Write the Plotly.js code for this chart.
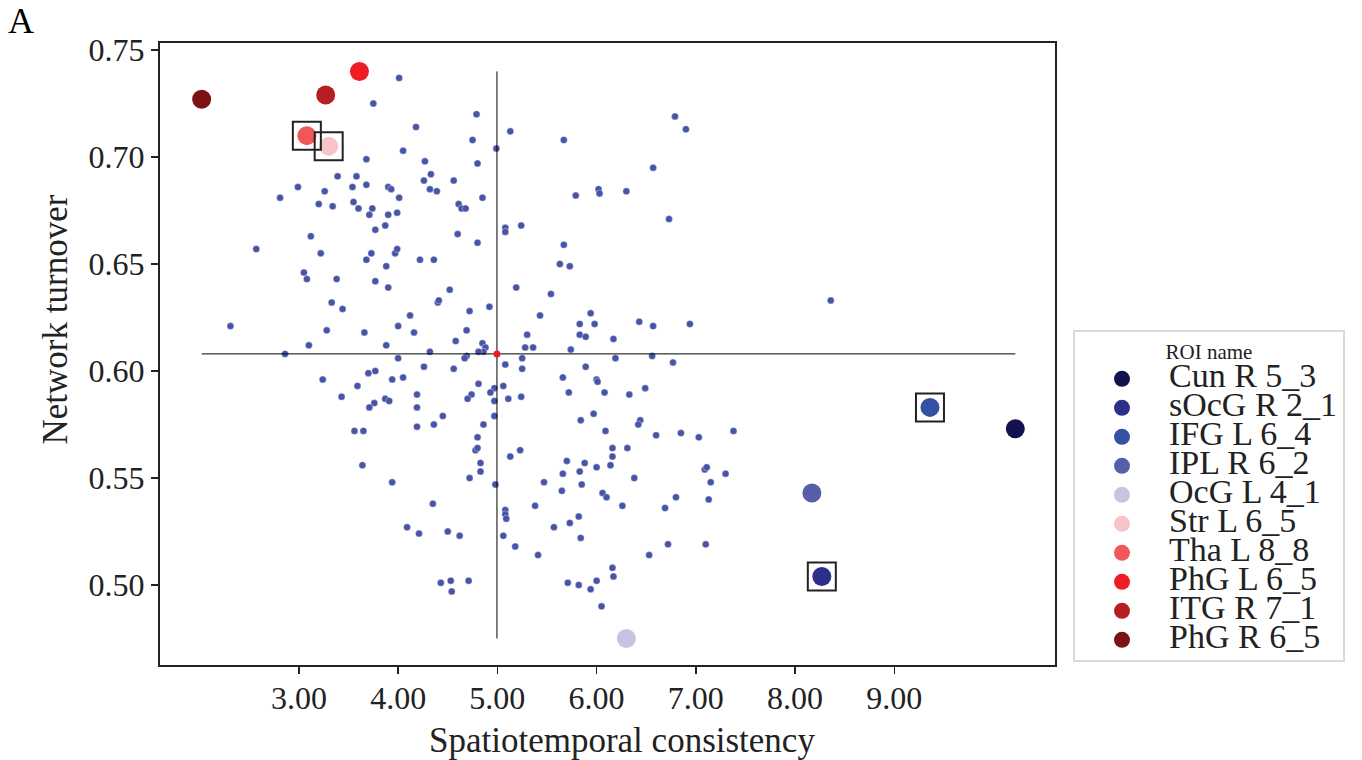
<!DOCTYPE html>
<html><head><meta charset="utf-8">
<script src="https://cdn.plot.ly/plotly-3.0.1.min.js"></script>
<style>html,body{margin:0;padding:0;background:#fff}#chart{width:1362px;height:760px}</style>
</head><body><div id="chart"></div>
<script>
// background ROIs (all regions)
const bgX = [4.01,3.75,3.68,3.39,3.58,2.99,3.26,3.54,3.68,3.90,
3.93,4.01,2.81,3.20,3.34,3.55,3.60,3.74,3.71,3.90,
3.99,3.87,3.77,3.12,2.57,3.22,3.73,3.97,3.99,4.79,
4.18,5.13,5.67,4.75,4.99,4.05,4.27,4.80,4.33,4.26,
4.56,4.32,4.39,5.79,6.02,6.03,4.85,4.61,4.64,4.68,
5.08,5.24,5.08,4.60,4.80,5.67,6.79,6.90,6.57,6.30,
6.73,3.68,3.05,3.08,3.38,3.88,3.77,3.90,3.33,3.44,
2.31,3.28,3.66,4.00,3.10,3.88,2.86,4.00,3.24,3.70,
3.77,3.94,3.59,3.43,3.87,3.91,3.76,3.71,3.56,3.65,
4.22,4.36,5.63,5.73,4.52,5.19,5.54,4.40,4.41,4.12,
4.72,4.92,5.43,5.94,5.83,5.98,4.16,4.69,5.30,5.83,
5.89,6.17,4.58,4.85,4.88,4.86,5.28,5.36,4.32,4.81,
4.69,4.67,5.74,5.25,6.19,5.08,4.26,4.56,5.25,5.89,
4.05,5.66,6.00,6.01,4.81,5.06,4.97,4.93,4.19,4.74,
5.24,5.72,6.08,4.70,4.97,5.11,4.19,4.45,4.97,5.97,
4.36,4.19,4.86,5.84,6.09,4.80,4.78,4.80,5.23,6.16,
8.36,6.43,6.57,6.94,6.56,6.77,6.49,6.33,6.44,6.42,
6.60,6.85,7.03,7.38,6.31,3.64,3.94,5.13,4.83,4.83,
4.72,4.98,4.35,4.09,4.21,4.50,4.62,4.43,4.53,4.54,
4.71,5.70,5.88,5.66,5.83,6.00,6.16,6.14,5.47,5.65,
5.85,6.06,6.10,6.26,5.38,5.08,5.08,5.09,5.06,5.18,
5.57,5.73,5.82,5.84,5.41,6.16,6.17,5.71,5.82,6.00,
5.94,6.05,6.38,6.80,6.69,7.09,7.11,7.30,7.15,7.13,
6.72,7.10,6.53];
const bgY = [0.737,0.725,0.699,0.691,0.691,0.686,0.684,0.686,0.687,0.686,
0.685,0.681,0.681,0.678,0.677,0.679,0.676,0.676,0.673,0.673,
0.674,0.668,0.666,0.663,0.657,0.655,0.655,0.655,0.657,0.720,
0.714,0.712,0.708,0.708,0.704,0.703,0.698,0.697,0.692,0.689,
0.689,0.685,0.684,0.682,0.685,0.683,0.681,0.678,0.676,0.676,
0.667,0.668,0.665,0.664,0.660,0.659,0.719,0.713,0.695,0.684,
0.671,0.652,0.646,0.643,0.643,0.649,0.642,0.639,0.632,0.629,
0.621,0.619,0.618,0.621,0.612,0.612,0.608,0.606,0.596,0.599,
0.600,0.596,0.593,0.588,0.587,0.586,0.585,0.583,0.572,0.572,
0.652,0.652,0.650,0.649,0.638,0.639,0.636,0.632,0.633,0.626,
0.628,0.630,0.626,0.627,0.622,0.622,0.618,0.619,0.617,0.617,
0.616,0.615,0.614,0.613,0.611,0.609,0.611,0.611,0.609,0.609,
0.607,0.606,0.610,0.606,0.606,0.603,0.602,0.601,0.601,0.602,
0.597,0.597,0.596,0.595,0.594,0.593,0.592,0.590,0.589,0.589,
0.588,0.590,0.590,0.587,0.586,0.587,0.583,0.579,0.579,0.580,
0.575,0.574,0.575,0.577,0.572,0.569,0.563,0.564,0.563,0.564,
0.633,0.623,0.621,0.622,0.607,0.604,0.592,0.589,0.577,0.575,
0.570,0.571,0.569,0.572,0.564,0.556,0.548,0.560,0.557,0.553,
0.550,0.547,0.538,0.527,0.524,0.525,0.523,0.501,0.502,0.497,
0.502,0.558,0.557,0.552,0.553,0.555,0.560,0.556,0.548,0.544,
0.547,0.543,0.541,0.537,0.537,0.535,0.533,0.531,0.523,0.518,
0.527,0.529,0.532,0.522,0.514,0.508,0.504,0.501,0.500,0.502,
0.498,0.490,0.550,0.541,0.536,0.554,0.555,0.552,0.548,0.540,
0.519,0.519,0.514];

// highlighted ROIs
const roiNames = ['Cun R 5_3','sOcG R 2_1','IFG L 6_4','IPL R 6_2','OcG L 4_1','Str L 6_5','Tha L 8_8','PhG L 6_5','ITG R 7_1','PhG R 6_5'];
const roiX = [10.22, 8.27, 9.36, 8.17, 6.30, 3.30, 3.08, 3.61, 3.27, 2.02];
const roiY = [0.573, 0.504, 0.583, 0.543, 0.475, 0.705, 0.710, 0.740, 0.729, 0.727];
const roiColors = ['#13124e','#2b318a','#3452a3','#5660a9','#c6c5e1','#f7c4c7','#ef5759','#ee1c25','#b51f24','#7b1315'];
const boxedRois = ['Tha L 8_8','Str L 6_5','IFG L 6_4','sOcG R 2_1'];

// centre (mean) of the distribution
const centerX = [4.996];
const centerY = [0.608];

const xTickVals = [3,4,5,6,7,8,9];
const xTickText = ['3.00','4.00','5.00','6.00','7.00','8.00','9.00'];
const yTickVals = [0.50,0.55,0.60,0.65,0.70,0.75];
const yTickText = ['0.50','0.55','0.60','0.65','0.70','0.75'];
const xTitle = 'Spatiotemporal consistency';
const yTitle = 'Network turnover';
const panelLabel = 'A';
const legendTitle = 'ROI name';

const FONT = 'Liberation Serif, Times New Roman, serif';
const INK = '#222222';

const allX = bgX.concat(roiX), allY = bgY.concat(roiY);
const minX = Math.min(...allX), maxX = Math.max(...allX);
const minY = Math.min(...allY), maxY = Math.max(...allY);

const traces = [];
traces.push({type:'scatter', mode:'markers', x:bgX, y:bgY, showlegend:false, hoverinfo:'skip',
  marker:{size:7, color:'#4854a6', line:{color:'rgba(255,255,255,0.6)', width:0.6}}});
traces.push({type:'scatter', mode:'lines', x:[minX, maxX], y:[centerY[0], centerY[0]], showlegend:false,
  line:{color:'#000', width:1}, hoverinfo:'skip'});
traces.push({type:'scatter', mode:'lines', x:[centerX[0], centerX[0]], y:[minY, maxY], showlegend:false,
  line:{color:'#000', width:1}, hoverinfo:'skip'});
traces.push({type:'scatter', mode:'markers', x:centerX, y:centerY, showlegend:false,
  marker:{size:7, color:'#ee1c25'}, hoverinfo:'skip'});
roiNames.forEach((n, i) => {
  traces.push({type:'scatter', mode:'markers', x:[roiX[i]], y:[roiY[i]],
    name:'<span style="font-size:34px">' + n + '</span>',
    marker:{size:19, color:roiColors[i]}});
});
const bx = [], by = [];
boxedRois.forEach(n => { const i = roiNames.indexOf(n); bx.push(roiX[i]); by.push(roiY[i]); });
traces.push({type:'scatter', mode:'markers', x:bx, y:by, showlegend:false, hoverinfo:'skip',
  marker:{symbol:'square-open', size:28, color:INK, line:{width:2, color:INK}}});

const layout = {
  width:1362, height:760,
  margin:{l:160, r:307, t:43, b:95},
  paper_bgcolor:'#fff', plot_bgcolor:'#fff',
  font:{family:FONT, color:INK},
  xaxis:{range:[1.60, 10.62], tickvals:xTickVals, ticktext:xTickText,
    ticks:'outside', ticklen:7, tickwidth:1.5, tickcolor:INK, ticklabelstandoff:-3,
    showline:true, linecolor:INK, linewidth:2, mirror:true,
    showgrid:false, zeroline:false, tickfont:{family:FONT, size:32, color:INK}},
  yaxis:{range:[0.4626, 0.7533], tickvals:yTickVals, ticktext:yTickText,
    ticks:'outside', ticklen:7, tickwidth:1.5, tickcolor:INK,
    showline:true, linecolor:INK, linewidth:2, mirror:true,
    showgrid:false, zeroline:false, tickfont:{family:FONT, size:32, color:INK}},
  legend:{x:1.0201, y:0.5386, xanchor:'left', yanchor:'top',
    bgcolor:'#fff', bordercolor:'#d9d9d9', borderwidth:2,
    font:{family:FONT, size:20, color:INK}, itemwidth:84,
    title:{text:legendTitle, side:'top center', font:{family:FONT, size:21, color:INK}}},
  annotations:[
    {text:panelLabel, xref:'paper', yref:'paper', x:-0.172, y:1.07, xanchor:'left', yanchor:'top',
      showarrow:false, font:{family:FONT, size:36, color:'#000'}},
    {text:xTitle, xref:'paper', yref:'paper', x:0.516, y:-0.122, xanchor:'center', yanchor:'middle',
      showarrow:false, font:{family:FONT, size:35, color:INK}},
    {text:yTitle, xref:'paper', yref:'paper', x:-0.117, y:0.556, xanchor:'center', yanchor:'middle',
      textangle:-90, showarrow:false, font:{family:FONT, size:35, color:INK}}
  ]
};

Plotly.newPlot('chart', traces, layout, {displayModeBar:false, staticPlot:true});
</script>
</body></html>
